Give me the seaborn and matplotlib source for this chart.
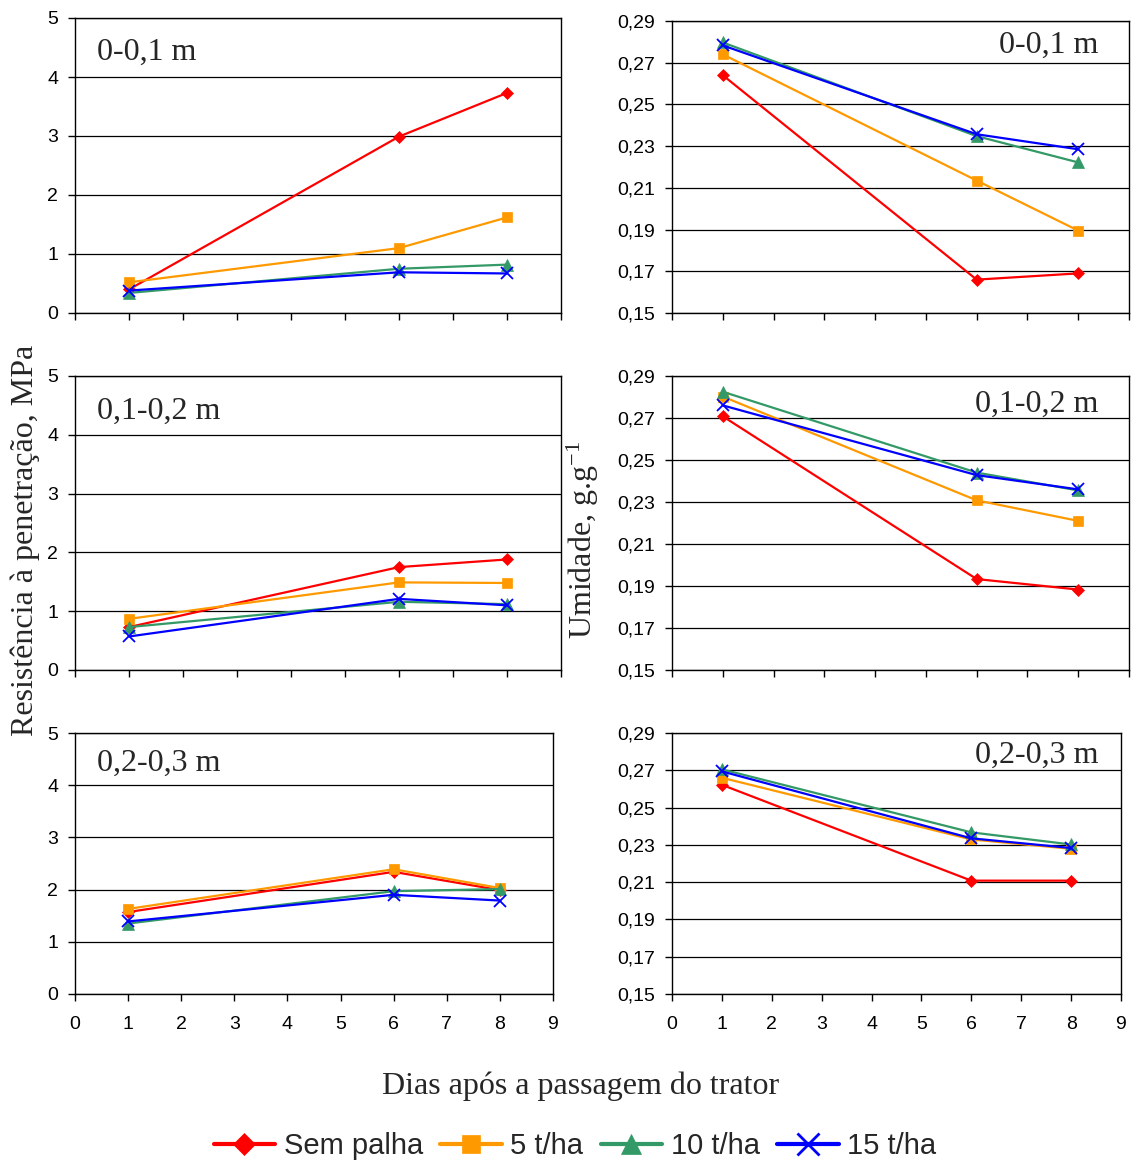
import matplotlib
matplotlib.use("Agg")
import matplotlib.pyplot as plt
from matplotlib.ticker import FuncFormatter, MultipleLocator
from matplotlib.lines import Line2D
import seaborn as sns
import pandas as pd

# dias apos a passagem do trator
dias = [1, 6, 8]
tratamentos = ["Sem palha", "5 t/ha", "10 t/ha", "15 t/ha"]
camadas = ["0-0,1 m", "0,1-0,2 m", "0,2-0,3 m"]

# resistencia a penetracao (MPa), uma lista por tratamento
rp_0_01 = {"Sem palha": [0.40, 2.99, 3.73], "5 t/ha": [0.52, 1.10, 1.62],
           "10 t/ha": [0.34, 0.75, 0.82], "15 t/ha": [0.38, 0.69, 0.67]}
rp_01_02 = {"Sem palha": [0.73, 1.75, 1.88], "5 t/ha": [0.87, 1.49, 1.48],
            "10 t/ha": [0.73, 1.16, 1.12], "15 t/ha": [0.57, 1.21, 1.10]}
rp_02_03 = {"Sem palha": [1.57, 2.34, 1.99], "5 t/ha": [1.63, 2.39, 2.03],
            "10 t/ha": [1.35, 1.97, 2.01], "15 t/ha": [1.39, 1.90, 1.79]}

# umidade (g/g)
um_0_01 = {"Sem palha": [0.264, 0.166, 0.169], "5 t/ha": [0.274, 0.2135, 0.1895],
           "10 t/ha": [0.2797, 0.2348, 0.2222], "15 t/ha": [0.2783, 0.2357, 0.2285]}
um_01_02 = {"Sem palha": [0.2708, 0.1933, 0.1883], "5 t/ha": [0.2802, 0.2308, 0.2210],
            "10 t/ha": [0.2825, 0.2440, 0.2355], "15 t/ha": [0.2760, 0.2428, 0.2360]}
um_02_03 = {"Sem palha": [0.2622, 0.2108, 0.2108], "5 t/ha": [0.2660, 0.2329, 0.2279],
            "10 t/ha": [0.2705, 0.2367, 0.2302], "15 t/ha": [0.2694, 0.2335, 0.2283]}

cores = {"Sem palha": "#FF0000", "5 t/ha": "#FF9900", "10 t/ha": "#339966", "15 t/ha": "#0000FF"}
marcadores = {"Sem palha": "D", "5 t/ha": "s", "10 t/ha": "^", "15 t/ha": "x"}
tamanhos = {"Sem palha": 6.5, "5 t/ha": 7.5, "10 t/ha": 8, "15 t/ha": 9}

sns.set_style("ticks")
plt.rcParams["font.family"] = ["Liberation Sans", "DejaVu Sans"]
plt.rcParams["mathtext.fontset"] = "custom"
plt.rcParams["mathtext.rm"] = "Liberation Serif"
plt.rcParams["mathtext.it"] = "Liberation Serif:italic"
SERIF = ["Liberation Serif", "DejaVu Serif"]

W, H = 1131, 1164
fig = plt.figure(figsize=(W / 100, H / 100), dpi=100)


def rect(x0, y0, x1, y1):
    return [x0 / W, 1 - y1 / H, (x1 - x0) / W, (y1 - y0) / H]


def painel(ax, valores, camada, umidade, rotulos_x, pos_rotulo):
    for t in tratamentos:
        df = pd.DataFrame({"dia": dias, "valor": valores[t]})
        sns.lineplot(data=df, x="dia", y="valor", color=cores[t], marker=marcadores[t],
                     markersize=tamanhos[t], markeredgecolor=cores[t],
                     markeredgewidth=1.3 if t == "15 t/ha" else 0.5,
                     linewidth=1.6, sort=False, ax=ax)

    ax.set_xlim(0, 9)
    ax.xaxis.set_major_locator(MultipleLocator(1))
    if umidade:
        ax.set_ylim(0.15, 0.29)
        ax.set_yticks([0.15, 0.17, 0.19, 0.21, 0.23, 0.25, 0.27, 0.29])
        ax.yaxis.set_major_formatter(FuncFormatter(lambda v, p: f"{v:.2f}".replace(".", ",")))
        ax.text(pos_rotulo[0], pos_rotulo[1], camada, transform=ax.transAxes, ha="right",
                va="center", fontsize=23, family=SERIF)
    else:
        ax.set_ylim(0, 5)
        ax.set_yticks(range(0, 6))
        ax.text(pos_rotulo[0], pos_rotulo[1], camada, transform=ax.transAxes, ha="left",
                va="center", fontsize=23, family=SERIF)
    ax.yaxis.grid(True, color="black", linewidth=0.9)
    ax.set_axisbelow(True)
    for s in ax.spines.values():
        s.set_visible(True)
        s.set_color("black")
        s.set_linewidth(1.0)
    ax.tick_params(axis="y", direction="out", length=5, width=1, labelsize=14, pad=7,
                   colors="black")
    ax.tick_params(axis="x", direction="out", length=5, width=1, labelsize=14, pad=11,
                   colors="black", labelbottom=rotulos_x)
    ax.set_xlabel("")
    ax.set_ylabel("")


ax1 = fig.add_axes(rect(75, 18, 561, 313))
ax2 = fig.add_axes(rect(672, 21, 1129, 313))
ax3 = fig.add_axes(rect(75, 376, 561, 670))
ax4 = fig.add_axes(rect(672, 376, 1129, 670))
ax5 = fig.add_axes(rect(75, 733, 553, 994))
ax6 = fig.add_axes(rect(672, 733, 1121, 994))

painel(ax1, rp_0_01, camadas[0], False, False, (0.045, 0.885))
painel(ax2, um_0_01, camadas[0], True, False, (0.934, 0.915))
painel(ax3, rp_01_02, camadas[1], False, False, (0.045, 0.88))
painel(ax4, um_01_02, camadas[1], True, False, (0.934, 0.905))
painel(ax5, rp_02_03, camadas[2], False, True, (0.045, 0.885))
painel(ax6, um_02_03, camadas[2], True, True, (0.951, 0.916))

fig.text(25 / W, 1 - 540 / H, "Resistência à penetração, MPa", rotation=90,
         ha="center", va="center", fontsize=23, family=SERIF)
fig.text(583 / W, 1 - 540 / H, "Umidade, g.g$^{-1}$", rotation=90,
         ha="center", va="center", fontsize=23, family=SERIF)
fig.text(581 / W, 1 - 1086 / H, "Dias após a passagem do trator",
         ha="center", va="center", fontsize=23, family=SERIF)

handles = [Line2D([], [], color=cores[t], marker=marcadores[t], lw=3,
                  markersize=tamanhos[t] * 1.8, markeredgecolor=cores[t],
                  markeredgewidth=2 if t == "15 t/ha" else 0.5)
           for t in tratamentos]
fig.legend(handles, tratamentos, loc="center", bbox_to_anchor=(575 / W, 1 - 1146 / H),
           ncol=4, frameon=False, prop={"family": "Liberation Sans", "size": 21},
           handlelength=2.1, handletextpad=0.3, columnspacing=0.6)

fig.savefig("out.png", dpi=100)
